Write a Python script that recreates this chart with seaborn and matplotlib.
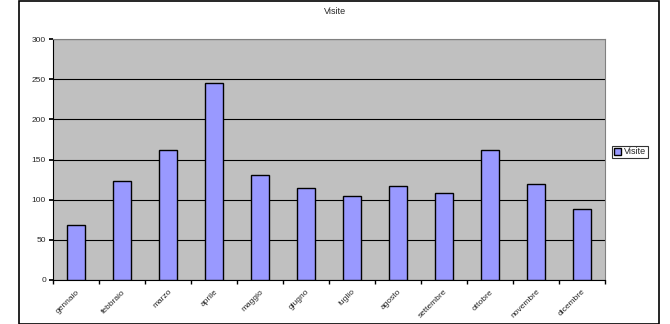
import matplotlib
matplotlib.use("Agg")
import matplotlib.pyplot as plt
import seaborn as sns
import pandas as pd
from matplotlib.patches import Rectangle

mesi = ["gennaio", "febbraio", "marzo", "aprile", "maggio", "giugno",
        "luglio", "agosto", "settembre", "ottobre", "novembre", "dicembre"]
visite = [68, 123, 162, 245, 131, 114, 104, 117, 108, 162, 120, 89]

df = pd.DataFrame({"mese": mesi, "Visite": visite})

sns.set_theme(style="white")
plt.rcParams["font.family"] = ["Liberation Sans", "DejaVu Sans"]

fig = plt.figure(figsize=(6.7, 3.24), dpi=100)
ax = fig.add_axes([53 / 670, 1 - 280 / 324, (605 - 53) / 670, (280 - 39) / 324])

sns.barplot(data=df, x="mese", y="Visite", color="#9999FF", width=0.4,
            edgecolor="black", linewidth=1.0, saturation=1, ax=ax,
            label="Visite", zorder=3)

ax.set_facecolor("#C0C0C0")
ax.set_ylim(0, 300)
ax.set_xlim(-0.5, len(mesi) - 0.5)
ax.set_yticks(range(0, 301, 50))
ax.yaxis.grid(True, color="black", linewidth=0.8, zorder=1)
ax.set_axisbelow(True)
ax.set_xlabel("")
ax.set_ylabel("")

for s in ["top", "right"]:
    ax.spines[s].set_color("#808080")
    ax.spines[s].set_linewidth(0.8)
for s in ["left", "bottom"]:
    ax.spines[s].set_color("black")
    ax.spines[s].set_linewidth(0.8)

ax.tick_params(axis="y", labelsize=6, length=3, color="black", direction="out", left=True, pad=2)
ax.set_xticks(range(len(mesi)))
ax.set_xticklabels(mesi, rotation=45, ha="right", rotation_mode="anchor", fontsize=6)
ax.tick_params(axis="x", which="major", length=0, pad=6)
ax.set_xticks([i - 0.5 for i in range(len(mesi) + 1)], minor=True)
ax.tick_params(axis="x", which="minor", length=3, color="black", direction="out", bottom=True)

fig.text(0.5, 1 - 12 / 324, "Visite", ha="center", va="center", fontsize=6.5)

leg = ax.legend(loc="center left", bbox_to_anchor=(612 / 670, 1 - 152 / 324),
                bbox_transform=fig.transFigure, fontsize=6.5, frameon=True,
                fancybox=False, handlelength=0.8, handleheight=0.8,
                handletextpad=0.3, borderpad=0.2, borderaxespad=0)
leg.get_frame().set_edgecolor("black")
leg.get_frame().set_linewidth(0.8)

fig.patches.append(Rectangle((19 / 670, 0.5 / 324), (659 - 19) / 670, 322.5 / 324,
                             transform=fig.transFigure, fill=False,
                             edgecolor="black", linewidth=1.2))

fig.savefig("out.png", dpi=100)
